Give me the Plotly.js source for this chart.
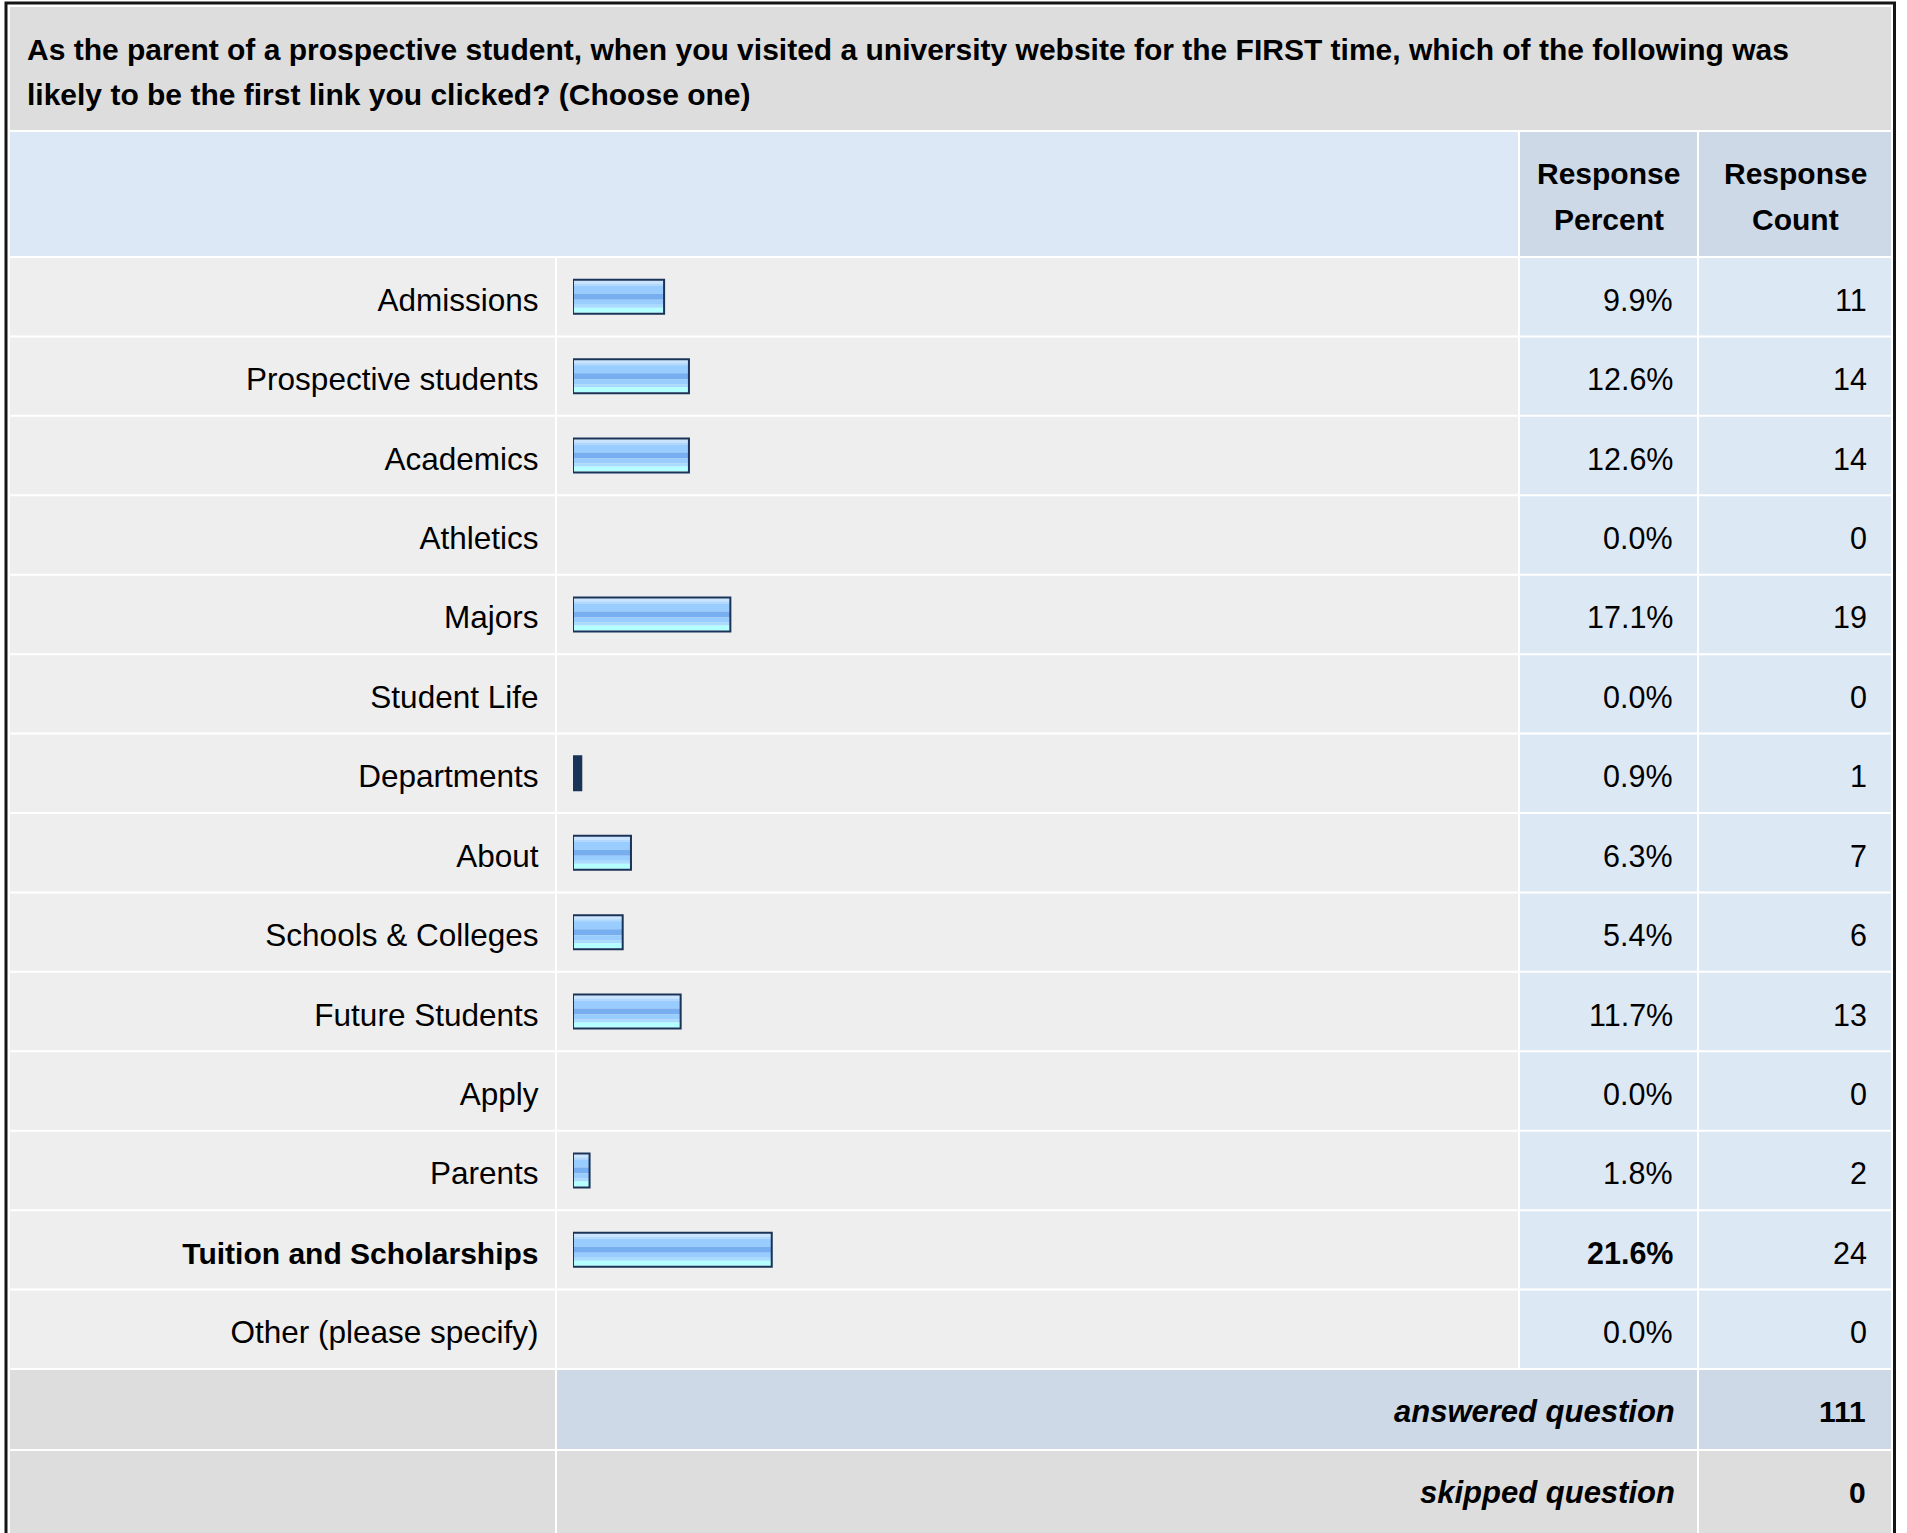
<!DOCTYPE html>
<html>
<head>
<meta charset="utf-8">
<script src="https://cdn.plot.ly/plotly-3.0.1.min.js"></script>
<style>
  html, body { margin: 0; padding: 0; background: #ffffff; }
  #chart { width: 1907px; height: 1533px; }
</style>
</head>
<body>
<div id="chart"></div>
<script>
// ---------------- DATA ----------------
const titleLines = [
  "As the parent of a prospective student, when you visited a university website for the FIRST time, which of the following was",
  "likely to be the first link you clicked? (Choose one)"
];
const categories = [
  "Admissions", "Prospective students", "Academics", "Athletics", "Majors",
  "Student Life", "Departments", "About", "Schools & Colleges", "Future Students",
  "Apply", "Parents", "Tuition and Scholarships", "Other (please specify)"
];
const percents = [9.9, 12.6, 12.6, 0.0, 17.1, 0.0, 0.9, 6.3, 5.4, 11.7, 0.0, 1.8, 21.6, 0.0];
const counts   = [11, 14, 14, 0, 19, 0, 1, 7, 6, 13, 0, 2, 24, 0];
const headerPercent = ["Response", "Percent"];
const headerCount   = ["Response", "Count"];
const answeredLabel = "answered question";
const answeredCount = 111;
const skippedLabel  = "skipped question";
const skippedCount  = 0;

// ---------------- LAYOUT HELPERS ----------------
const W = 1907, H = 1533;
const X = px => px / W;
const Y = py => 1 - py / H;
const FONT = "Liberation Sans, Arial, Helvetica, sans-serif";

const rowsTop = 257, rowsBottom = 1369;
const n = categories.length;
const U = (rowsBottom - rowsTop) / n;     // pixels per category unit
const u = px => px / U;                   // px -> category units

const barX0 = 573, barX1 = 1518, barRange = 102.7;
const pxPerPct = (barX1 - barX0) / barRange;

const maxPct = Math.max(...percents);
const isMax = percents.map(p => p === maxPct);

// columns [x0, x1] in px
const colLabel = [10, 555], colBar = [557, 1518], colPct = [1520, 1697], colCnt = [1699, 1891];

const shapes = [];
function rect(x0, x1, y0, y1, fill) {
  shapes.push({type: "rect", xref: "paper", yref: "paper", layer: "below",
    x0: X(x0), x1: X(x1), y0: Y(y1), y1: Y(y0), fillcolor: fill, line: {width: 0}});
}
// title band
rect(10, 1891, 7, 130, "#dddddd");
// header
rect(10, 1518, 132, 256, "#dce8f5");
rect(colPct[0], colPct[1], 132, 256, "#cdd9e6");
rect(colCnt[0], colCnt[1], 132, 256, "#cdd9e6");
// data rows (columns), row separators added below
rect(colLabel[0], colLabel[1], 258, 1368, "#eeeeee");
rect(colBar[0], colBar[1], 258, 1368, "#eeeeee");
rect(colPct[0], colPct[1], 258, 1368, "#dde8f5");
rect(colCnt[0], colCnt[1], 258, 1368, "#dde8f5");
for (let i = 0; i < n - 1; i++) {
  shapes.push({type: "line", xref: "paper", yref: "y", layer: "below",
    x0: X(10), x1: X(1891), y0: i + 0.5, y1: i + 0.5, line: {color: "#ffffff", width: 2}});
}
// footer rows
rect(colLabel[0], colLabel[1], 1370, 1449, "#dddddd");
rect(colBar[0], colPct[1], 1370, 1449, "#cdd9e6");
rect(colCnt[0], colCnt[1], 1370, 1449, "#cdd9e6");
rect(colLabel[0], colLabel[1], 1451, 1545, "#dddddd");
rect(colBar[0], colPct[1], 1451, 1545, "#dddddd");
rect(colCnt[0], colCnt[1], 1451, 1545, "#dddddd");
// outer border
shapes.push({type: "rect", xref: "paper", yref: "paper", layer: "above",
  x0: X(6), x1: X(1894.5), y0: Y(1560), y1: Y(3), line: {color: "#151515", width: 3}, fillcolor: "rgba(0,0,0,0)"});

// ---------------- BARS ----------------
// stripe bands [topPx, bottomPx] relative to bar centre (interior spans -16..16)
const stripes = [
  [-16, -13, "#c8e4ff"],
  [-13, -11, "#b0d8ff"],
  [-11,  -3, "#99ccff"],
  [ -3,   3, "#76aef0"],
  [  3,   8, "#99ccff"],
  [  8,  11, "#a9daff"],
  [ 11,  16, "#b4ffff"]
];
const traces = [];
stripes.forEach(s => {
  traces.push({
    type: "bar", orientation: "h", x: percents, y: categories,
    xaxis: "x", yaxis: "y",
    width: u(s[1] - s[0]), offset: u(s[0]),
    marker: {color: s[2], line: {width: 0}},
    hoverinfo: "skip", showlegend: false
  });
});
// outline (very thin bars are drawn solid dark, as in the original)
traces.push({
  type: "bar", orientation: "h", x: percents, y: categories,
  xaxis: "x", yaxis: "y",
  width: u(34), offset: u(-17),
  marker: {
    color: percents.map(p => p * pxPerPct < 10 ? "#1a3358" : "rgba(0,0,0,0)"),
    line: {color: "#1a3358", width: percents.map(p => p > 0 ? 2 : 0)}
  },
  hoverinfo: "skip", showlegend: false
});

// ---------------- ANNOTATIONS ----------------
const annotations = [];
function ann(text, xpx, ypx, xanchor, size, extra) {
  annotations.push(Object.assign({
    text: text, xref: "paper", yref: "paper", x: X(xpx), y: Y(ypx),
    xanchor: xanchor, yanchor: "middle", showarrow: false,
    font: {family: FONT, size: size, color: "#000000"}
  }, extra || {}));
}
ann("<b>" + titleLines[0] + "</b>", 25, 49, "left", 30);
ann("<b>" + titleLines[1] + "</b>", 25, 95, "left", 30);
ann("<b>" + headerPercent[0] + "</b>", 1608.5, 173, "center", 30);
ann("<b>" + headerPercent[1] + "</b>", 1608.5, 219.5, "center", 30);
ann("<b>" + headerCount[0] + "</b>", 1795, 173, "center", 30);
ann("<b>" + headerCount[1] + "</b>", 1795, 219.5, "center", 30);
ann("<b><i>" + answeredLabel + "</i></b>", 1677, 1411, "right", 31);
ann("<b>" + answeredCount + "</b>", 1868, 1411, "right", 30);
ann("<b><i>" + skippedLabel + "</i></b>", 1677, 1492, "right", 31);
ann("<b>" + skippedCount + "</b>", 1868, 1492, "right", 30);

// percent and count columns, placed on the category axis
categories.forEach((c, i) => {
  const pctText = percents[i].toFixed(1) + "%";
  annotations.push({
    text: isMax[i] ? "<b>" + pctText + "</b>" : pctText,
    xref: "paper", yref: "y", x: X(1674.5), y: c, yshift: -3,
    xanchor: "right", yanchor: "middle", showarrow: false,
    font: {family: FONT, size: 30.5, color: "#000000"}
  });
  annotations.push({
    text: String(counts[i]),
    xref: "paper", yref: "y", x: X(1868.5), y: c, yshift: -3,
    xanchor: "right", yanchor: "middle", showarrow: false,
    font: {family: FONT, size: 30.5, color: "#000000"}
  });
});

// ---------------- LAYOUT ----------------
const layout = {
  width: W, height: H,
  margin: {l: 0, r: 0, t: 0, b: 0, pad: 0},
  paper_bgcolor: "#ffffff", plot_bgcolor: "rgba(0,0,0,0)",
  font: {family: FONT, color: "#000000"},
  barmode: "overlay",
  showlegend: false,
  xaxis: {domain: [X(barX0), X(barX1)], range: [0, barRange], visible: false, fixedrange: true, anchor: "y"},
  yaxis: {
    domain: [Y(rowsBottom), Y(rowsTop)],
    type: "category",
    categoryorder: "array", categoryarray: categories,
    range: [n - 0.5, -0.5],
    tickmode: "array", tickvals: categories,
    ticktext: categories.map((c, i) => isMax[i]
      ? '<span style="font-size:30px"><b>' + c + '</b></span>' : c),
    tickfont: {family: FONT, size: 31.5, color: "#000000"},
    ticklabelshift: -3,
    ticks: "", showgrid: false, zeroline: false, showline: false,
    anchor: "free", position: X(538.5), fixedrange: true
  },
  shapes: shapes,
  annotations: annotations
};

Plotly.newPlot("chart", traces, layout, {displayModeBar: false, staticPlot: true});
</script>
</body>
</html>
